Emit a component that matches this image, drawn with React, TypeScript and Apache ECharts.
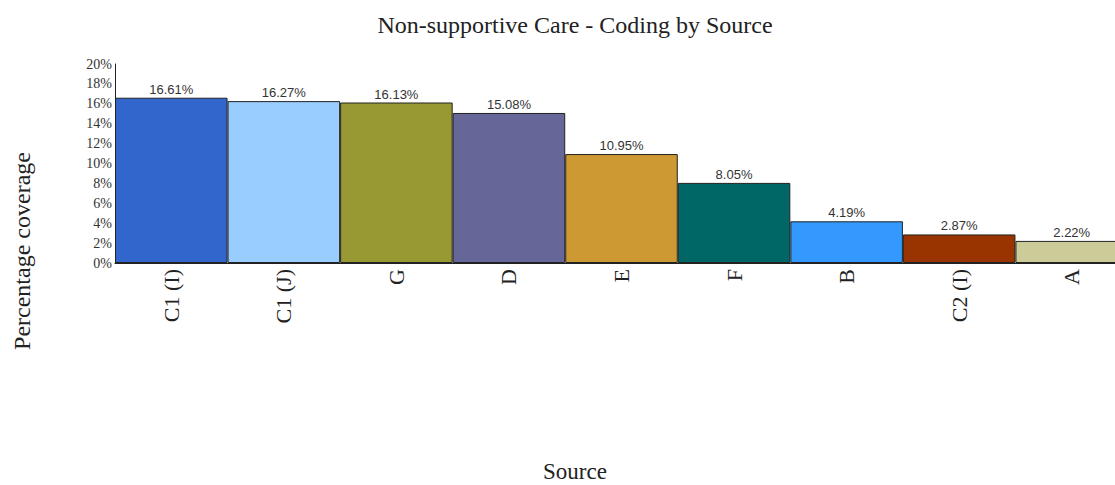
import React, { useEffect, useRef } from "react";
import * as echarts from "echarts";

const categories = ["C1 (I)", "C1 (J)", "G", "D", "E", "F", "B", "C2 (I)", "A"];
const values = [16.61, 16.27, 16.13, 15.08, 10.95, 8.05, 4.19, 2.87, 2.22];
const colors = ["#3366CC", "#99CCFF", "#999933", "#666699", "#CC9933", "#006666", "#3399FF", "#993300", "#CCCC99"];
const titleText = "Non-supportive Care - Coding by Source";
const yAxisTitle = "Percentage coverage";
const xAxisTitle = "Source";

const SERIF = "'Liberation Serif', 'Times New Roman', serif";
const SANS = "'Liberation Sans', Arial, sans-serif";

export default function App() {
  const ref = useRef<HTMLDivElement>(null);
  useEffect(() => {
    if (!ref.current) return;
    const chart = echarts.init(ref.current, undefined, { renderer: "svg" });
    chart.setOption({
      animation: false,
      backgroundColor: "#ffffff",
      grid: { left: 115, top: 64, bottom: 222, right: 0, containLabel: false },
      xAxis: {
        type: "category",
        data: categories,
        axisLine: { show: true, lineStyle: { color: "#222", width: 1 } },
        axisTick: { show: false },
        axisLabel: {
          rotate: 90,
          interval: 0,
          margin: 6,
          fontFamily: SERIF,
          fontSize: 22,
          color: "#222",
        },
      },
      yAxis: {
        type: "value",
        min: 0,
        max: 20,
        interval: 2,
        axisLine: { show: true, lineStyle: { color: "#222", width: 1 } },
        axisTick: { show: false },
        splitLine: { show: false },
        axisLabel: {
          formatter: "{value}%",
          margin: 3,
          fontFamily: SERIF,
          fontSize: 14,
          color: "#333",
        },
      },
      series: [
        {
          type: "bar",
          barCategoryGap: "0%",
          data: values.map((v, i) => ({
            value: v,
            itemStyle: { color: colors[i], borderColor: "#222", borderWidth: 1 },
          })),
          label: {
            show: true,
            position: "top",
            distance: 2,
            formatter: (p: any) => p.value.toFixed(2) + "%",
            fontFamily: SANS,
            fontSize: 13,
            color: "#333",
          },
        },
      ],
      graphic: [
        {
          type: "text",
          x: 575,
          y: 25,
          style: {
            text: titleText,
            font: `24px ${SERIF}`,
            fill: "#222",
            align: "center",
            verticalAlign: "middle",
          },
        },
        {
          type: "text",
          x: 22,
          y: 251,
          rotation: Math.PI / 2,
          style: {
            text: yAxisTitle,
            font: `24px ${SERIF}`,
            fill: "#222",
            align: "center",
            verticalAlign: "middle",
          },
        },
        {
          type: "text",
          x: 575,
          y: 471,
          style: {
            text: xAxisTitle,
            font: `23px ${SERIF}`,
            fill: "#222",
            align: "center",
            verticalAlign: "middle",
          },
        },
      ],
    });
    return () => chart.dispose();
  }, []);
  return (
    <div style={{ position: "absolute", left: 0, top: 0, width: 1115, height: 485, overflow: "hidden" }}>
      <div ref={ref} style={{ position: "absolute", left: 0, top: 0, width: 1128, height: 485 }} />
    </div>
  );
}
